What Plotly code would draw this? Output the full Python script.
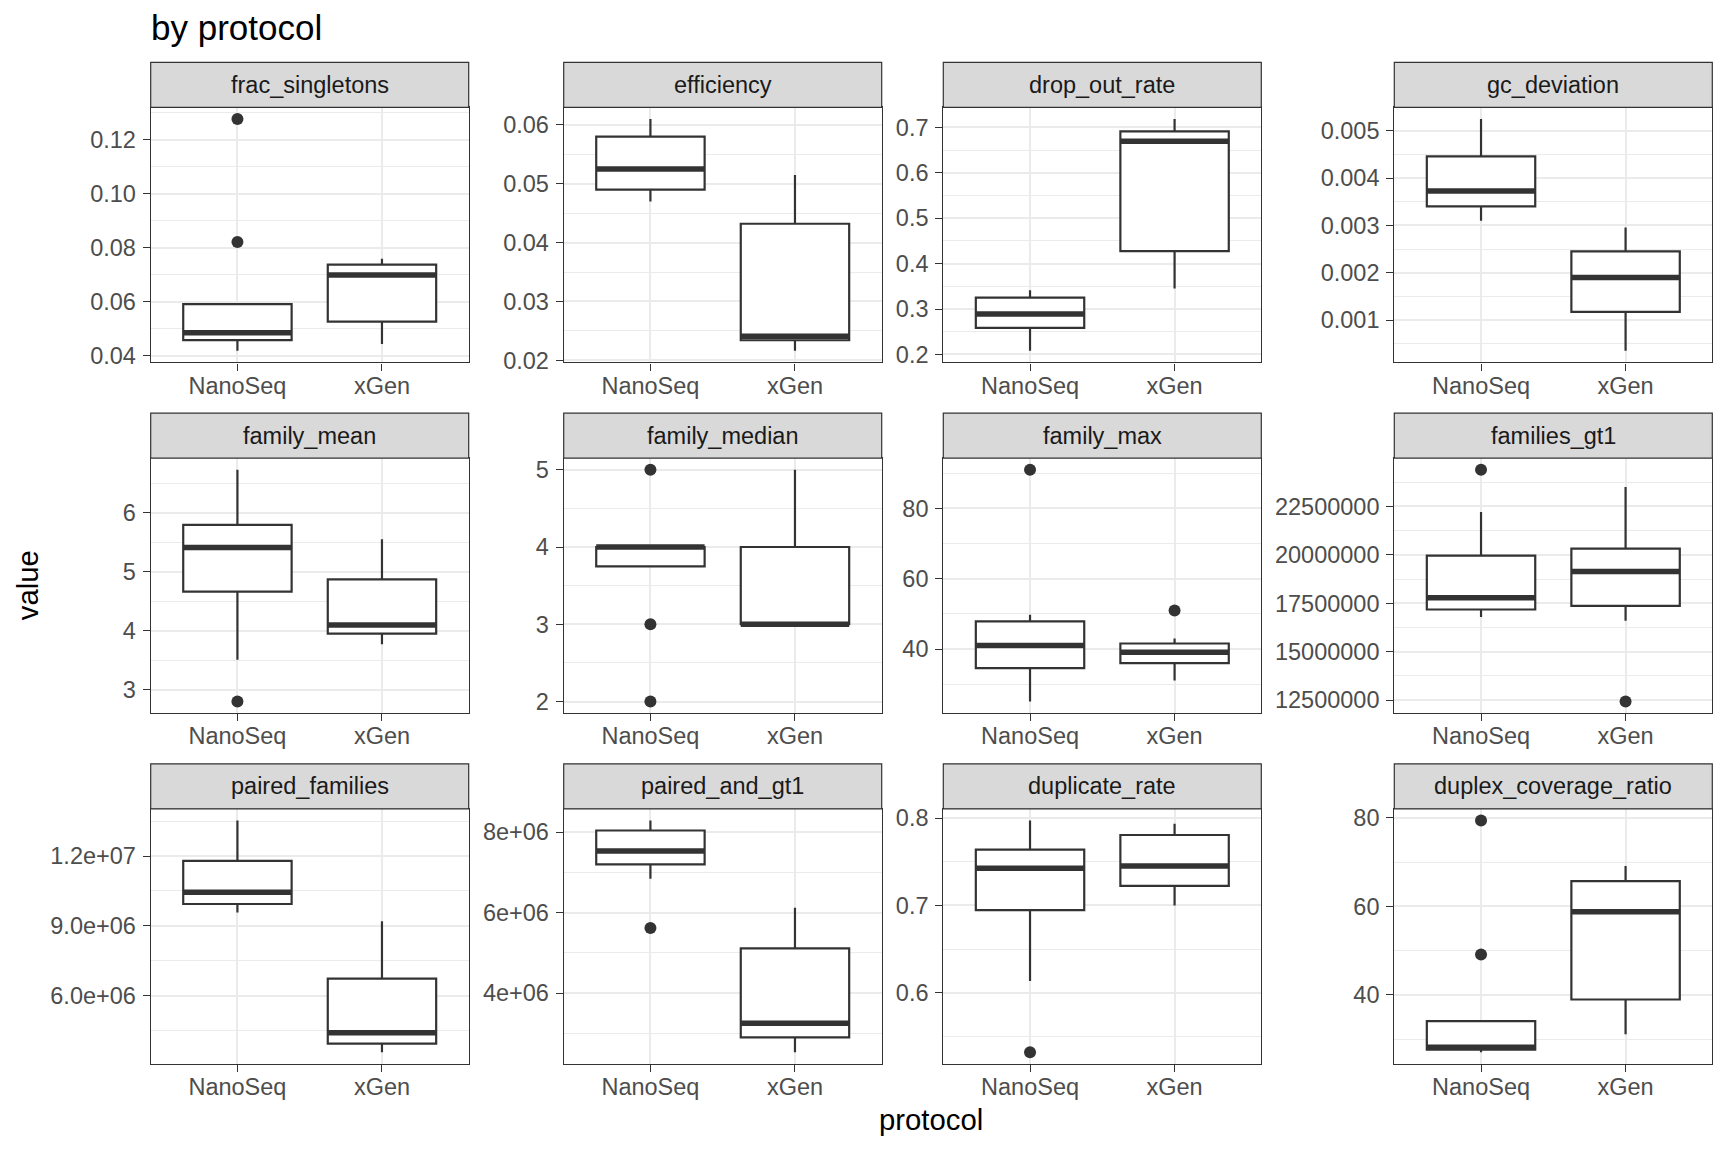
import plotly.graph_objects as go

# ---------------- data ----------------
protocols = ["NanoSeq", "xGen"]
metrics = ["frac_singletons", "efficiency", "drop_out_rate", "gc_deviation",
           "family_mean", "family_median", "family_max", "families_gt1",
           "paired_families", "paired_and_gt1", "duplicate_rate", "duplex_coverage_ratio"]

# NanoSeq box statistics (lower whisker, q1, median, q3, upper whisker) + outliers
nano_lower = [0.0418, 0.0470, 0.208, 0.003099, 3.508, 3.75, 25.1, 16.79e6, 9.57e6, 6.84e6, 0.6133, 27.04]
nano_q1 = [0.0458, 0.0490, 0.2586, 0.003401, 4.664, 3.75, 34.6, 17.18e6, 9.94e6, 7.20e6, 0.6945, 27.65]
nano_median = [0.0485, 0.0525, 0.2893, 0.003725, 5.414, 4.0, 41.0, 17.78e6, 10.44e6, 7.53e6, 0.7425, 28.17]
nano_q3 = [0.0591, 0.0580, 0.3252, 0.004458, 5.797, 4.0, 47.9, 19.96e6, 11.79e6, 8.04e6, 0.7638, 34.05]
nano_upper = [0.0592, 0.0610, 0.3413, 0.005246, 6.734, 4.0, 49.8, 22.21e6, 13.53e6, 8.29e6, 0.7973, 34.05]
nano_outliers = [[0.1276, 0.0821], [], [], [], [2.80], [5, 3, 2], [91.0], [24.39e6], [], [5.62e6],
                 [0.5318], [79.4, 49.1]]

# xGen box statistics + outliers
xgen_lower = [0.0443, 0.0216, 0.3450, 0.000352, 3.773, 3.0, 31.1, 16.60e6, 3.57e6, 2.53e6, 0.6998, 31.11]
xgen_q1 = [0.0526, 0.0234, 0.4277, 0.001176, 3.953, 3.0, 36.0, 17.37e6, 3.94e6, 2.90e6, 0.7223, 38.95]
xgen_median = [0.0699, 0.0241, 0.6693, 0.001901, 4.100, 3.0, 39.1, 19.14e6, 4.41e6, 3.25e6, 0.7451, 58.76]
xgen_q3 = [0.0737, 0.0432, 0.6912, 0.002451, 4.873, 4.0, 41.6, 20.32e6, 6.73e6, 5.11e6, 0.7806, 65.69]
xgen_upper = [0.0759, 0.0515, 0.7183, 0.002958, 5.555, 5.0, 43.0, 23.50e6, 9.2e6, 6.12e6, 0.7935, 69.08]
xgen_outliers = [[], [], [], [], [], [], [51.0], [12.43e6], [], [], [], []]

# y tick values and labels per panel
y_tick_values = [
    [0.04, 0.06, 0.08, 0.10, 0.12],
    [0.02, 0.03, 0.04, 0.05, 0.06],
    [0.2, 0.3, 0.4, 0.5, 0.6, 0.7],
    [0.001, 0.002, 0.003, 0.004, 0.005],
    [3, 4, 5, 6],
    [2, 3, 4, 5],
    [40, 60, 80],
    [12500000, 15000000, 17500000, 20000000, 22500000],
    [6e6, 9e6, 12e6],
    [4e6, 6e6, 8e6],
    [0.6, 0.7, 0.8],
    [40, 60, 80],
]
y_tick_labels = [
    ["0.04", "0.06", "0.08", "0.10", "0.12"],
    ["0.02", "0.03", "0.04", "0.05", "0.06"],
    ["0.2", "0.3", "0.4", "0.5", "0.6", "0.7"],
    ["0.001", "0.002", "0.003", "0.004", "0.005"],
    ["3", "4", "5", "6"],
    ["2", "3", "4", "5"],
    ["40", "60", "80"],
    ["12500000", "15000000", "17500000", "20000000", "22500000"],
    ["6.0e+06", "9.0e+06", "1.2e+07"],
    ["4e+06", "6e+06", "8e+06"],
    ["0.6", "0.7", "0.8"],
    ["40", "60", "80"],
]

# ---------------- layout geometry (page pixels) ----------------
W, H = 1728, 1152
Y_OFF, Y_SCALE = 4.85, 0.987   # empirical vertical calibration of the capture


def px(x):
    return x / W


def py(y):
    return 1 - ((y - Y_OFF) / Y_SCALE) / H


col_left = [150.7, 563.7, 943.3, 1394.3]
panel_w = 318.0
row_top = [63.3, 414.0, 764.7]   # strip tops
strip_h = 45.0
plot_h = 255.0

FONT = "Liberation Sans"
DARK = "#333333"
GRID = "#EBEBEB"
BOX_W = 0.75

fig = go.Figure()
layout = dict(
    width=W, height=H, autosize=False,
    margin=dict(l=0, r=0, t=0, b=0),
    paper_bgcolor="white", plot_bgcolor="white",
    showlegend=False,
    font=dict(family=FONT, color="#4D4D4D", size=23.5),
)
shapes = []
annotations = []

for i, name in enumerate(metrics):
    r, c = divmod(i, 4)
    n = i + 1
    xa = "x" if n == 1 else f"x{n}"
    ya = "y" if n == 1 else f"y{n}"
    left = col_left[c]
    right = left + panel_w
    s_top = row_top[r]
    s_bot = s_top + strip_h
    p_bot = s_bot + plot_h

    stats = [
        (nano_lower[i], nano_q1[i], nano_median[i], nano_q3[i], nano_upper[i], nano_outliers[i]),
        (xgen_lower[i], xgen_q1[i], xgen_median[i], xgen_q3[i], xgen_upper[i], xgen_outliers[i]),
    ]
    all_vals = []
    for (lo, q1, md, q3, up, outs) in stats:
        all_vals += [lo, q1, md, q3, up] + list(outs)
    vmin, vmax = min(all_vals), max(all_vals)
    pad = (vmax - vmin) * 0.05
    yr = [vmin - pad, vmax + pad]

    for k, (lo, q1, md, q3, up, outs) in enumerate(stats):
        pos = k + 1
        fig.add_trace(go.Box(
            x=[pos], q1=[q1], median=[md], q3=[q3], lowerfence=[lo], upperfence=[up],
            width=BOX_W, fillcolor="white", line=dict(color=DARK, width=2.2),
            whiskerwidth=0, boxpoints=False, xaxis=xa, yaxis=ya, hoverinfo="skip",
        ))
        fig.add_trace(go.Scatter(
            x=[pos - BOX_W / 2, pos + BOX_W / 2], y=[md, md], mode="lines",
            line=dict(color=DARK, width=5.5), xaxis=xa, yaxis=ya, hoverinfo="skip",
        ))
        if outs:
            fig.add_trace(go.Scatter(
                x=[pos] * len(outs), y=outs, mode="markers",
                marker=dict(color=DARK, size=12, line=dict(width=0)),
                xaxis=xa, yaxis=ya, hoverinfo="skip",
            ))

    ticks = y_tick_values[i]
    step = ticks[1] - ticks[0]
    layout["xaxis" if n == 1 else f"xaxis{n}"] = dict(
        domain=[px(left), px(right)], anchor=ya, range=[0.4, 2.6],
        tickmode="array", tickvals=[1, 2], ticktext=protocols,
        showgrid=True, gridcolor=GRID, gridwidth=2, zeroline=False,
        showline=True, mirror=True, linecolor=DARK, linewidth=1.2,
        ticks="outside", ticklen=7, tickwidth=1.3, tickcolor=DARK,
        tickfont=dict(family=FONT, size=23.5, color="#4D4D4D"),
        ticklabelstandoff=-5,
    )
    layout["yaxis" if n == 1 else f"yaxis{n}"] = dict(
        domain=[py(p_bot), py(s_bot)], anchor=xa, range=yr,
        tickmode="array", tickvals=ticks, ticktext=y_tick_labels[i],
        showgrid=True, gridcolor=GRID, gridwidth=2, zeroline=False,
        minor=dict(tickmode="linear", tick0=ticks[0], dtick=step / 2,
                   showgrid=True, gridcolor=GRID, gridwidth=1, ticks=""),
        showline=True, mirror=True, linecolor=DARK, linewidth=1.2,
        ticks="outside", ticklen=7, tickwidth=1.3, tickcolor=DARK,
        tickfont=dict(family=FONT, size=23.5, color="#4D4D4D"),
        ticklabelstandoff=2,
    )
    shapes.append(dict(
        type="rect", xref="paper", yref="paper",
        x0=px(left), x1=px(right), y0=py(s_bot), y1=py(s_top),
        fillcolor="#D9D9D9", line=dict(color=DARK, width=1.2), layer="above",
    ))
    annotations.append(dict(
        text=name, xref="paper", yref="paper",
        x=px((left + right) / 2), y=py(s_top + strip_h / 2),
        xanchor="center", yanchor="middle", showarrow=False,
        font=dict(family=FONT, size=23.5, color="#1A1A1A"),
    ))

annotations.append(dict(
    text="by protocol", xref="paper", yref="paper", x=px(148.7), y=py(28.6),
    xanchor="left", yanchor="middle", showarrow=False,
    font=dict(family=FONT, size=35, color="black"),
))
annotations.append(dict(
    text="value", xref="paper", yref="paper", x=px(27), y=py(586),
    xanchor="center", yanchor="middle", showarrow=False, textangle=-90,
    font=dict(family=FONT, size=29.3, color="black"),
))
annotations.append(dict(
    text="protocol", xref="paper", yref="paper", x=px(931), y=py(1120),
    xanchor="center", yanchor="middle", showarrow=False,
    font=dict(family=FONT, size=29.3, color="black"),
))

layout["shapes"] = shapes
layout["annotations"] = annotations
fig.update_layout(**layout)
fig.write_html(
    "out.html",
    config={"displayModeBar": False},
    post_script="document.body.style.margin='0';document.documentElement.style.overflow='hidden';",
)
